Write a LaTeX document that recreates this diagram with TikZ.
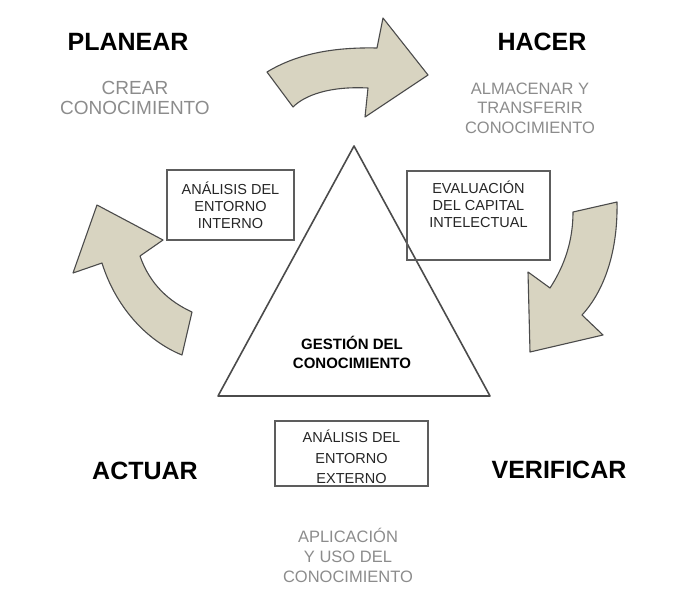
\documentclass[tikz,border=0pt]{standalone}
\usepackage{fontspec}
\setmainfont{Liberation Sans}
\usepackage{tkz-euclide}
\usetikzlibrary{calc}
\definecolor{arena}{RGB}{216,212,193}
\definecolor{borde}{RGB}{75,75,75}
\definecolor{tenue}{RGB}{140,140,140}
\tikzset{
  etapa/.style={font=\bfseries\fontsize{25}{30}\selectfont,text=black},
  accion/.style={align=center,text=tenue},
  caja/.style={draw=borde!90,line width=1.4pt,align=center,inner sep=0pt,
    font=\fontsize{14.5}{17}\selectfont,text=black!85},
  flecha/.style={fill=arena,draw=borde,line width=1.1pt,line join=round}
}

\begin{document}
\begin{tikzpicture}[x=1pt,y=-1pt]
  \useasboundingbox (0,0) rectangle (684,589);
  \tkzDefPoints{354/146/A, 218/396/B, 490/396/C}
  \tkzDrawPolygon[draw=borde,line width=1.6pt,line join=round](A,B,C)
  \filldraw[flecha] (267,72) .. controls (295,55) and (330,47) .. (377,48)
     -- (383,18) -- (428,75) -- (365,117) -- (368,88)
     .. controls (330,86) and (305,95) .. (293,107) -- cycle;
  \filldraw[flecha] (617,202) .. controls (618,250) and (605,290) .. (582,315)
     -- (603,335) -- (530,352) -- (528,272) -- (550,288)
     .. controls (565,265) and (573,240) .. (573,212) -- cycle;
  \filldraw[flecha] (182,355) .. controls (145,340) and (115,305) .. (102,263)
     -- (73,273) -- (97,205) -- (163,240) -- (140,256)
     .. controls (150,285) and (170,302) .. (192,312) -- cycle;
  \node[etapa] (planear) at (128,42) {PLANEAR};
  \node[etapa] (hacer) at (542,42) {HACER};
  \node[etapa] (actuar) at (145,471) {ACTUAR};
  \node[etapa] (verificar) at (559,470) {VERIFICAR};
  \node[accion,font=\fontsize{19}{20.5}\selectfont] (crear) at (135,98) {CREAR\\CONOCIMIENTO};
  \node[accion,font=\fontsize{16.5}{19.5}\selectfont] (almacenar) at (530,108) {ALMACENAR Y\\TRANSFERIR\\CONOCIMIENTO};
  \node[accion,font=\fontsize{16.5}{20}\selectfont] (aplicacion) at (348,555) {APLICACIÓN\\Y USO DEL\\CONOCIMIENTO};
  \node[caja,minimum width=127,minimum height=70] (interno) at (230.5,205) {ANÁLISIS DEL\\ENTORNO\\INTERNO};
  \node[caja,minimum width=143,minimum height=89] (capital) at (478.5,215.5) {EVALUACIÓN\\DEL CAPITAL\\INTELECTUAL\\\strut};
  \node[caja,minimum width=153,minimum height=65] (externo) at (351.5,453.5) {};
  \node[align=center,font=\fontsize{14.5}{20.5}\selectfont,text=black!85] (externotxt) at (351.5,457) {ANÁLISIS DEL\\ENTORNO\\EXTERNO};
  \node[align=center,font=\bfseries\fontsize{15}{19}\selectfont] (gestion) at (352,352) {GESTIÓN DEL\\CONOCIMIENTO};
\end{tikzpicture}
\end{document}
